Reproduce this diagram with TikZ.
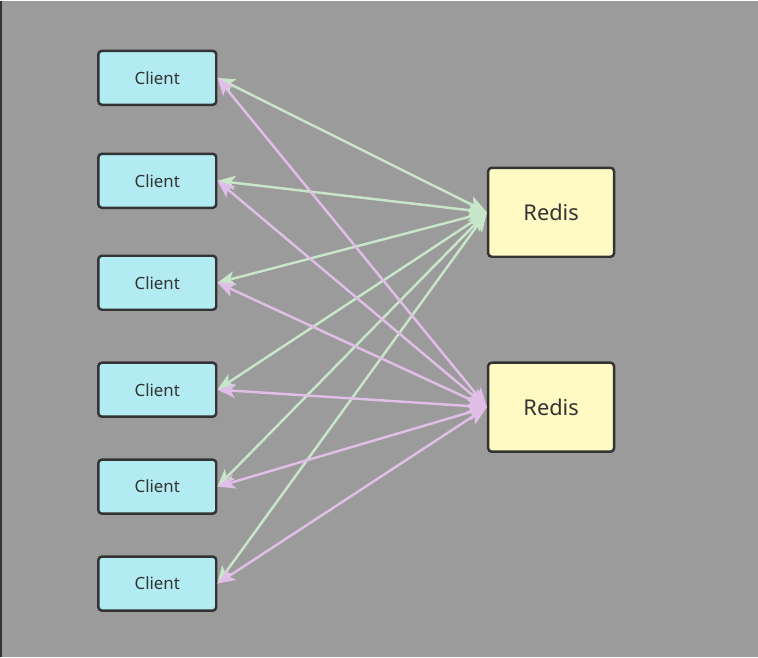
\documentclass[tikz,border=0pt]{standalone}
\usepackage{fontspec}
\setmainfont{Noto Sans}
\usetikzlibrary{arrows.meta}
\definecolor{bggray}{HTML}{9B9B9B}
\definecolor{edgegray}{HTML}{333333}
\definecolor{clientfill}{HTML}{B2EBF2}
\definecolor{redisfill}{HTML}{FFF9C4}
\definecolor{greenline}{HTML}{C8E6C9}
\definecolor{pinkline}{HTML}{E1BEE7}
\tikzset{
    clientbox/.style={draw=edgegray, line width=1.4pt, rounded corners=2pt, fill=clientfill,
        minimum width=2.36cm, minimum height=1.08cm, text=edgegray, font=\fontsize{9.6}{11}\selectfont},
    redisbox/.style={draw=edgegray, line width=1.4pt, rounded corners=2pt, fill=redisfill,
        minimum width=2.52cm, minimum height=1.78cm, text=edgegray, font=\fontsize{12.4}{14}\selectfont},
    link/.style={line width=1.4pt, {Stealth[length=10pt,width=8pt,inset=2.5pt]}-{Stealth[length=11pt,width=9pt,inset=2.5pt]}}
}
\begin{document}
\begin{tikzpicture}[x=0.02cm, y=-0.02cm]
        % background
        \fill[bggray] (0,0) rectangle (758,656);
        \draw[edgegray, line width=1pt] (0.5,0) -- (0.5,656);
        \useasboundingbox (0,0) rectangle (758,656);
        % clients and servers
        \foreach \i/\y in {1/77, 2/180, 3/282, 4/389, 5/486, 6/583} {
            \node[clientbox] (c\i) at (157,\y) {Client};
        }
        \node[redisbox] (r1) at (551,211.5) {Redis};
        \node[redisbox] (r2) at (551,406.5) {Redis};
        % connections
        \foreach \i in {1,...,6} {
            \draw[link, greenline] (c\i.east) -- (r1.west);
        }
        \foreach \i in {1,...,6} {
            \draw[link, pinkline] (c\i.east) -- (r2.west);
        }
\end{tikzpicture}
\end{document}
